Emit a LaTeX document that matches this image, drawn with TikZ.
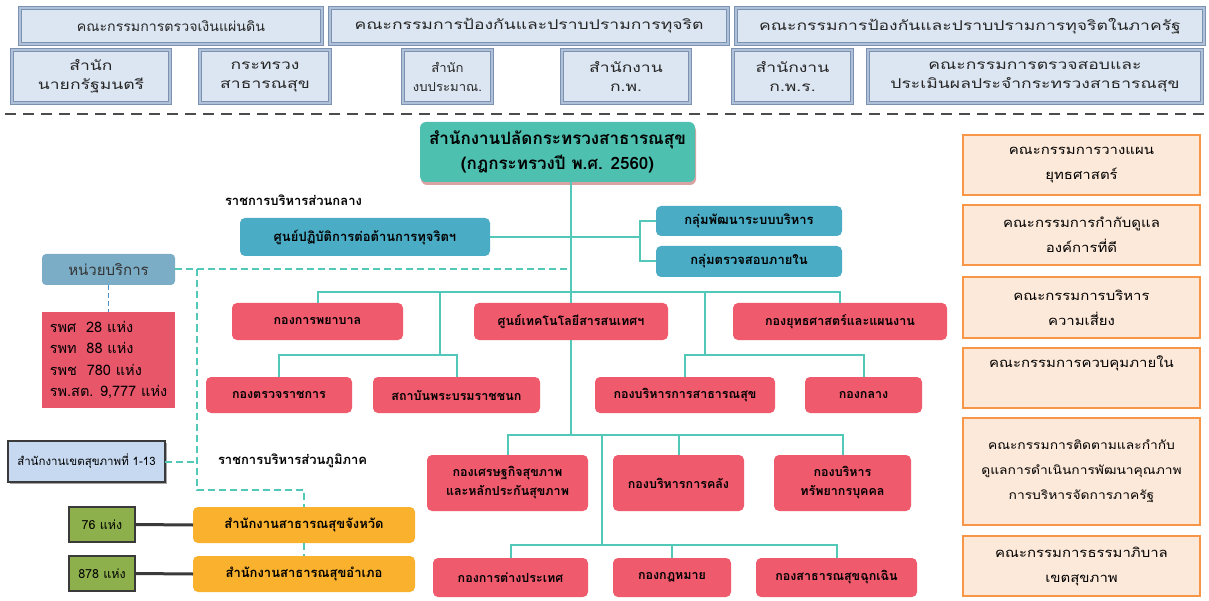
\documentclass[tikz,border=0pt]{standalone}
\usepackage{fontspec}
\setmainfont{Loma}[Script=Thai]
\newfontfamily\widethai{Loma}[Script=Thai,FakeStretch=1.3]
\newfontfamily\midthai{Loma}[Script=Thai,FakeStretch=1.05]
\newfontfamily\peachthai{Loma}[Script=Thai,FakeStretch=1.15]
\usetikzlibrary{shadows}
\definecolor{topfill}{HTML}{DCE6F2}
\definecolor{topdraw}{HTML}{7D92B0}
\definecolor{topinner}{HTML}{AFC1D9}
\definecolor{mainteal}{HTML}{4DC0B0}
\definecolor{conn}{HTML}{52C9B8}
\definecolor{bluebox}{HTML}{4BACC6}
\definecolor{unitblue}{HTML}{7BADC6}
\definecolor{redbox}{HTML}{EF5A6C}
\definecolor{rpred}{HTML}{E8566A}
\definecolor{orangebox}{HTML}{F9B12E}
\definecolor{greenbox}{HTML}{8DB04C}
\definecolor{darkline}{HTML}{3A3A3A}
\definecolor{regfill}{HTML}{C6D9F1}
\definecolor{peachfill}{HTML}{FDE9D9}
\definecolor{peachdraw}{HTML}{F79646}
\definecolor{shadowpink}{HTML}{D9A3A3}
\definecolor{dashblue}{HTML}{4A90C8}
\newcommand\mybox[7]{\node[#2, minimum width={(#5-#3)*1pt}, minimum height={(#6-#4)*1pt}] (#1) at ({(#3+#5)/2},{(#4+#6)/2}) {#7};}
\tikzset{
  base/.style={inner sep=0pt, outer sep=0pt, align=center, text=black},
  topbox/.style={base, fill=topfill, draw=topdraw, line width=0.9pt, double=topinner, double distance=1.4pt,
     font=\widethai\fontsize{13.5}{19}\selectfont, text=black!85},
  mainbox/.style={base, fill=mainteal, rounded corners=6pt, font=\bfseries\fontsize{17}{25}\selectfont,
     drop shadow={fill=shadowpink, shadow xshift=1pt, shadow yshift=-3pt, opacity=1}},
  bluebx/.style={base, fill=bluebox, rounded corners=5pt, font=\bfseries\fontsize{13}{16}\selectfont},
  redbx/.style={base, fill=redbox, rounded corners=5pt, font=\bfseries\fontsize{12.5}{19}\selectfont},
  orbx/.style={base, fill=orangebox, rounded corners=5pt, font=\bfseries\fontsize{13}{16}\selectfont},
  grbx/.style={base, fill=greenbox, draw=darkline, line width=2.5pt, font=\fontsize{12.5}{16}\selectfont},
  regbx/.style={base, fill=regfill, draw=darkline, line width=2.5pt, font=\fontsize{11.5}{16}\selectfont,
     drop shadow={fill=black!35, shadow xshift=2pt, shadow yshift=-2pt, opacity=1}},
  peachbx/.style={base, fill=peachfill, draw=peachdraw, line width=1.4pt, font=\peachthai\fontsize{13}{25}\selectfont},
  unitbx/.style={base, fill=unitblue, rounded corners=4pt, font=\fontsize{15}{18}\selectfont, text=black!80},
  rpbx/.style={base, fill=rpred, align=left, font=\fontsize{14.5}{21.5}\selectfont},
  lbl/.style={base, font=\bfseries\fontsize{13}{16}\selectfont},
  tline/.style={draw=conn, line width=2pt},
  tdash/.style={draw=conn, line width=2pt, dashed, dash pattern=on 7pt off 4pt},
  bdash/.style={draw=dashblue, line width=1.5pt, dash pattern=on 5pt off 3pt},
  gline/.style={draw=darkline, line width=3pt},
  sepline/.style={draw=black!70, line width=1.5pt, dash pattern=on 11pt off 7pt}
}
\begin{document}
\begin{tikzpicture}[x=1pt,y=-1pt]
\useasboundingbox[fill=white] (0,0) rectangle (1209,601);
% top rows
\mybox{t1}{topbox}{20}{8}{322}{44}{\midthai คณะกรรมการตรวจเงินแผ่นดิน}
\mybox{t2}{topbox}{330}{8}{728}{44}{คณะกรรมการป้องกันและปราบปรามการทุจริต}
\mybox{t3}{topbox}{736}{8}{1204}{44}{คณะกรรมการป้องกันและปราบปรามการทุจริตในภาครัฐ}
\mybox{s1}{topbox}{12}{50}{170}{103}{สำนัก\\นายกรัฐมนตรี}
\mybox{s2}{topbox}{200}{50}{330}{103}{กระทรวง\\สาธารณสุข}
\mybox{s3}{topbox}{403}{50}{492}{103}{\midthai\fontsize{12.5}{19}\selectfont สำนัก\\\midthai\fontsize{12.5}{19}\selectfont งบประมาณ.}
\mybox{s4}{topbox}{562}{50}{690}{103}{สำนักงาน\\ก.พ.}
\mybox{s5}{topbox}{733}{50}{852}{103}{สำนักงาน\\ก.พ.ร.}
\mybox{s6}{topbox}{868}{50}{1202}{103}{คณะกรรมการตรวจสอบและ\\ประเมินผลประจำกระทรวงสาธารณสุข}
\coordinate (sepL) at (5,114);
\coordinate (sepR) at (1205,114);
\draw[sepline] (sepL) -- (sepR);
% main
\mybox{main}{mainbox}{420}{122}{695}{182}{สำนักงานปลัดกระทรวงสาธารณสุข\\(กฎกระทรวงปี พ.ศ. 2560)}
\node[lbl, anchor=west] (central) at (225,200) {ราชการบริหารส่วนกลาง};
\mybox{anti}{bluebx}{240}{218}{490}{256}{ศูนย์ปฏิบัติการต่อต้านการทุจริตฯ}
\mybox{pd}{bluebx}{656}{206}{842}{236}{กลุ่มพัฒนาระบบบริหาร}
\mybox{ts}{bluebx}{656}{246}{842}{277}{กลุ่มตรวจสอบภายใน}
% red level 1
\mybox{pyaban}{redbx}{232}{303}{403}{340}{กองการพยาบาล}
\mybox{tech}{redbx}{474}{303}{668}{340}{ศูนย์เทคโนโลยีสารสนเทศฯ}
\mybox{yuth}{redbx}{733}{303}{947}{340}{กองยุทธศาสตร์และแผนงาน}
% red level 2
\mybox{trv}{redbx}{206}{377}{352}{413}{กองตรวจราชการ}
\mybox{sth}{redbx}{373}{377}{540}{413}{สถาบันพระบรมราชชนก}
\mybox{bsa}{redbx}{595}{377}{775}{413}{กองบริหารการสาธารณสุข}
\mybox{klang}{redbx}{805}{377}{922}{413}{กองกลาง}
% red level 3
\mybox{econ}{redbx}{427}{455}{588}{511}{กองเศรษฐกิจสุขภาพ\\และหลักประกันสุขภาพ}
\mybox{fin}{redbx}{613}{455}{744}{511}{กองบริหารการคลัง}
\mybox{hr}{redbx}{774}{455}{911}{511}{กองบริหาร\\ทรัพยากรบุคคล}
% red level 4
\mybox{foreign}{redbx}{433}{558}{588}{597}{กองการต่างประเทศ}
\mybox{law}{redbx}{613}{558}{731}{597}{กองกฎหมาย}
\mybox{emerg}{redbx}{756}{558}{917}{597}{กองสาธารณสุขฉุกเฉิน}
% left side
\mybox{unit}{unitbx}{42}{254}{175}{285}{หน่วยบริการ}
\mybox{rp}{rpbx}{42}{312}{175}{408}{\begin{tabular}{@{}l@{}}รพศ\ \ 28 แห่ง\\รพท\ \ 88 แห่ง\\รพช\ \ 780 แห่ง\\รพ.สต. 9,777 แห่ง\end{tabular}}
\mybox{region}{regbx}{8}{441}{165}{482}{สำนักงานเขตสุขภาพที่ 1-13}
\node[lbl, anchor=west] (regional) at (218,461) {ราชการบริหารส่วนภูมิภาค};
\mybox{prov}{orbx}{193}{507}{415}{543}{สำนักงานสาธารณสุขจังหวัด}
\mybox{amph}{orbx}{193}{556}{415}{592}{สำนักงานสาธารณสุขอำเภอ}
\mybox{g76}{grbx}{69}{507}{135}{542}{76 แห่ง}
\mybox{g878}{grbx}{69}{556}{135}{591}{878 แห่ง}
% right column
\mybox{c1}{peachbx}{963}{135}{1200}{195}{คณะกรรมการวางแผน\\ยุทธศาสตร์}
\mybox{c2}{peachbx}{963}{205}{1200}{265}{คณะกรรมการกำกับดูแล\\องค์การที่ดี}
\mybox{c3}{peachbx}{963}{277}{1200}{338}{คณะกรรมการบริหาร\\ความเสี่ยง}
\mybox{c4}{peachbx}{963}{348}{1200}{408}{คณะกรรมการควบคุมภายใน\\\strut}
\mybox{c5}{peachbx}{963}{418}{1200}{525}{\fontsize{12}{29.5}\selectfont คณะกรรมการติดตามและกำกับ\\\fontsize{12}{29.5}\selectfont ดูแลการดำเนินการพัฒนาคุณภาพ\\\fontsize{12}{29.5}\selectfont การบริหารจัดการภาครัฐ}
\mybox{c6}{peachbx}{963}{536}{1200}{596}{คณะกรรมการธรรมาภิบาล\\เขตสุขภาพ}
% connectors
\coordinate (bus1) at (571,292);
\coordinate (jL) at (440,355);
\coordinate (jR) at (705,355);
\coordinate (bus3) at (571,435);
\coordinate (jB) at (602,545);
\coordinate (br) at (640,237);
\coordinate (dv) at (197,269.5);
\coordinate (dc) at (197,490);
\draw[tline] (main.south -| tech.north) -- (tech.north);
\draw[tline] (anti.east) -- (br);
\draw[tline] (pd.west) -| (br) |- (ts.west);
\draw[tline] (pyaban.north) |- (bus1) -| (yuth.north);
\draw[tline] (jL |- bus1) -- (jL);
\draw[tline] (trv.north) |- (jL) -| (sth.north);
\draw[tline] (jR |- bus1) -- (jR);
\draw[tline] (bsa.north) |- (jR) -| (klang.north);
\draw[tline] (tech.south) -- (bus3);
\draw[tline] (econ.north) |- (bus3) -| (hr.north);
\draw[tline] (fin.north) -- (fin.north |- bus3);
\draw[tline] (jB |- bus3) -- (jB);
\draw[tline] (foreign.north) |- (jB) -| (emerg.north);
\draw[tline] (law.north) -- (law.north |- jB);
% dashed
\draw[tdash] (unit.east) -- (unit.east -| tech.north);
\draw[tdash] (dv) -- (dc) -| (prov.north);
\draw[tdash] (region.east) -- (region.east -| dv);
\draw[tdash] (prov.south) -- (amph.north);
\draw[bdash] (unit.south) -- (rp.north);
\draw[gline] (g76.east) -- (prov.west);
\draw[gline] (g878.east) -- (amph.west);
\end{tikzpicture}
\end{document}
